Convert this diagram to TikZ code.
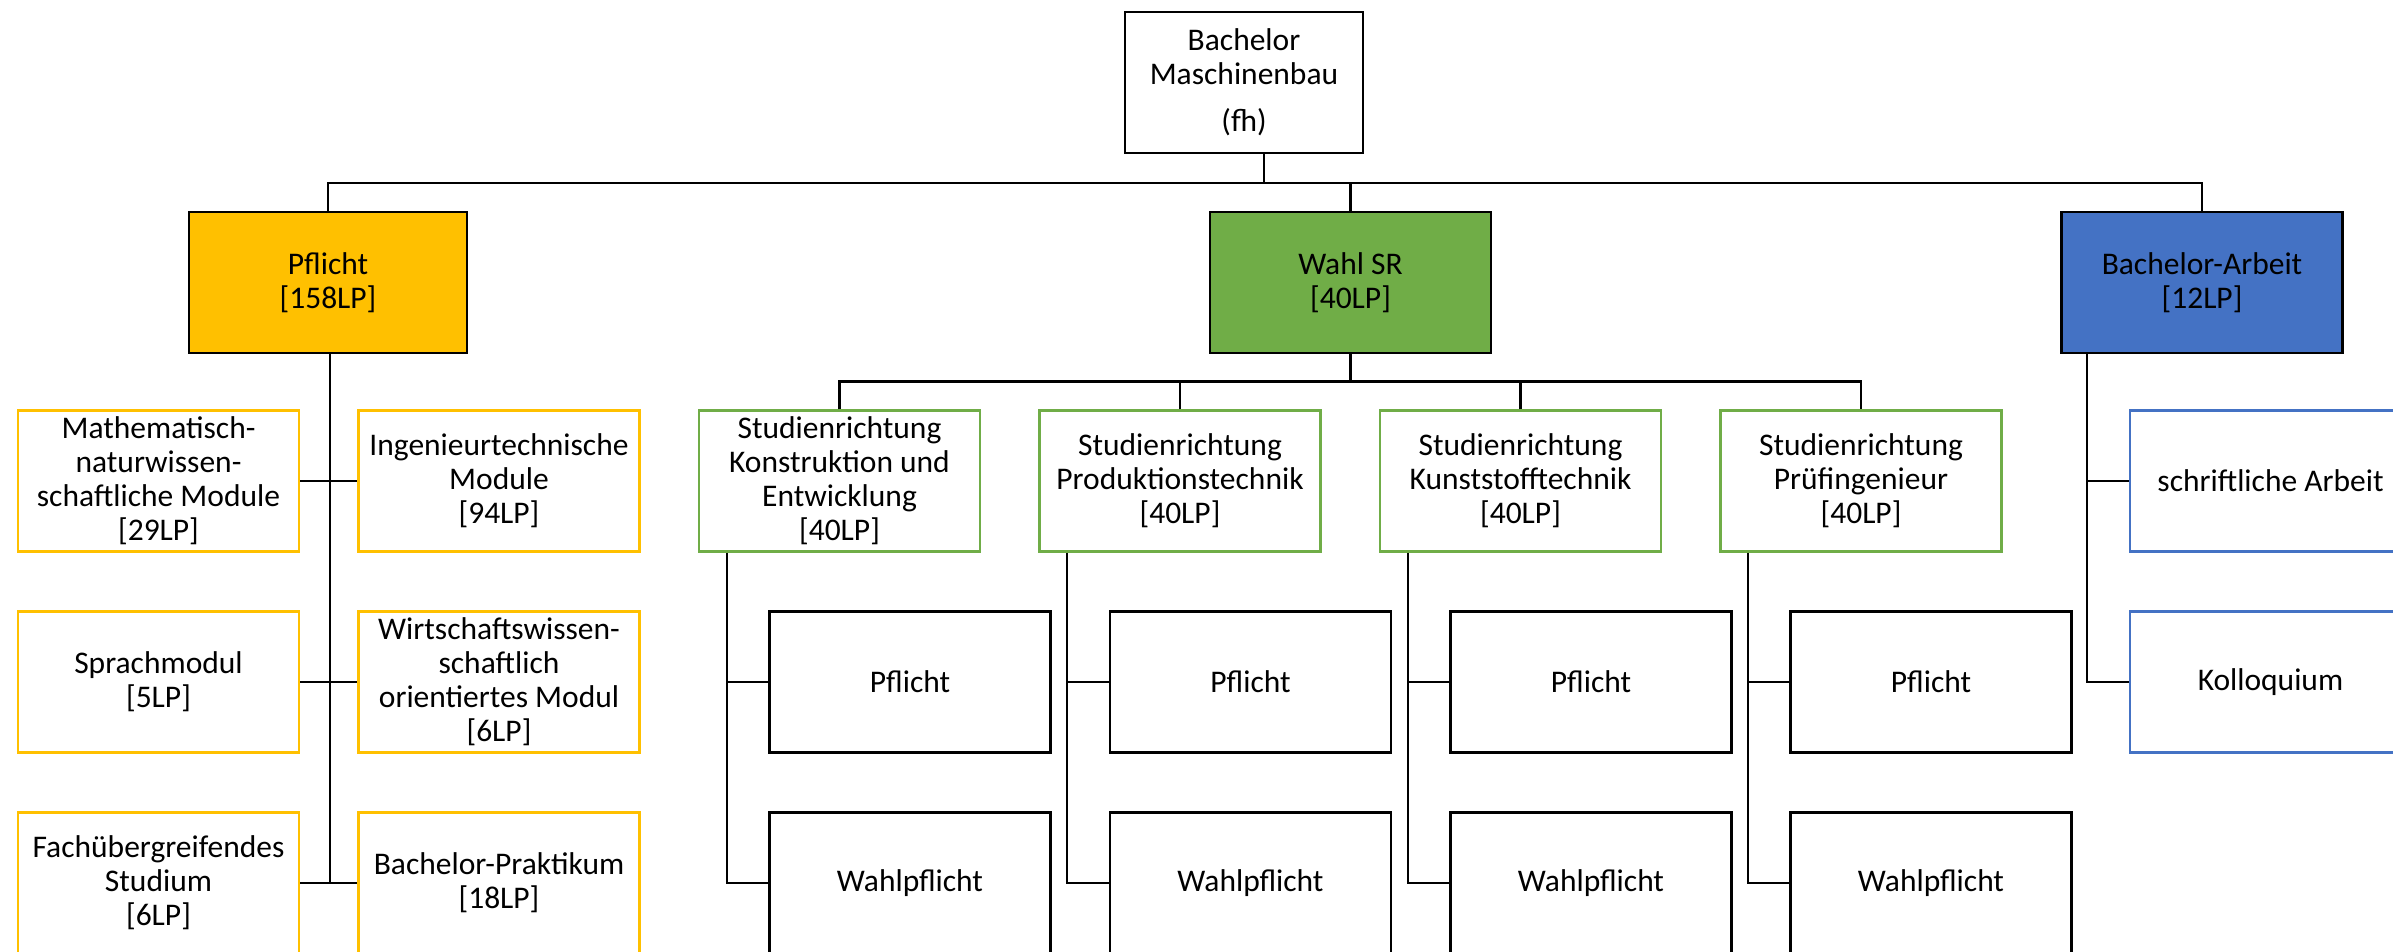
\documentclass[tikz,border=0pt]{standalone}
\usepackage{fontspec}
\setmainfont{Carlito}
\definecolor{orng}{HTML}{FFC000}
\definecolor{grn}{HTML}{70AD47}
\definecolor{blu}{HTML}{4472C4}
\newcommand\lp[1]{[#1LP]}
\begin{document}
\begin{tikzpicture}[x=1pt,y=-1pt,
  box/.style={draw=black, line width=2.5pt, minimum width=281pt, minimum height=141pt,
    inner sep=0pt, align=center, font=\fontsize{31.5}{34}\selectfont},
  obox/.style={box, draw=orng},
  gbox/.style={box, draw=grn},
  bbox/.style={box, draw=blu},
  conn/.style={draw=black, line width=2.3pt}
]
\useasboundingbox (0,0) rectangle (2393,951);
\clip (0,0) rectangle (2393,951);
\fill[white] (0,0) rectangle (2393,951);

% level 0
\node[box, minimum width=238pt] (top) at (1244,82.5) {Bachelor\\Maschinenbau\\[13pt](fh)};
% level 1
\node[box, fill=orng, minimum width=278pt] (pfl) at (328,282.5) {Pflicht\\\lp{158}};
\node[box, fill=grn] (wahl) at (1350.5,282.5) {Wahl SR\\\lp{40}};
\node[box, fill=blu] (ba) at (2202,282.5) {Bachelor-Arbeit\\\lp{12}};

% Pflicht children
\node[obox] (m1) at (158.5,481) {Mathematisch-\\naturwissen-\\schaftliche Module\\\lp{29}};
\node[obox] (i1) at (499,481) {Ingenieurtechnische\\Module\\\lp{94}};
\node[obox] (m2) at (158.5,682) {Sprachmodul\\\lp{5}};
\node[obox] (i2) at (499,682) {Wirtschaftswissen-\\schaftlich\\orientiertes Modul\\\lp{6}};
\node[obox] (m3) at (158.5,883) {Fachübergreifendes\\Studium\\\lp{6}};
\node[obox] (i3) at (499,883) {Bachelor-Praktikum\\\lp{18}};

% Studienrichtungen
\node[gbox] (s1) at (839.5,481) {Studienrichtung\\Konstruktion und\\Entwicklung\\\lp{40}};
\node[gbox] (s2) at (1180,481) {Studienrichtung\\Produktionstechnik\\\lp{40}};
\node[gbox] (s3) at (1520.5,481) {Studienrichtung\\Kunststofftechnik\\\lp{40}};
\node[gbox] (s4) at (1861,481) {Studienrichtung\\Prüfingenieur\\\lp{40}};
\foreach \i/\x in {1/910,2/1250.5,3/1591,4/1931}{
  \node[box] (p\i) at (\x,682) {Pflicht};
  \node[box] (w\i) at (\x,883) {Wahlpflicht};
}

% Bachelor-Arbeit children
\node[bbox] (sa) at (2270.5,481) {schriftliche Arbeit};
\node[bbox] (ko) at (2270.5,682) {Kolloquium};

% connectors level 0 -> 1
\coordinate (b1) at (0,183);
\coordinate (topc) at ([xshift=20pt]top.south);
\draw[conn] (topc) -- (topc |- b1);
\draw[conn] (pfl.north) -- (pfl.north |- b1) -- (ba.north |- b1) -- (ba.north);
\draw[conn] (wahl.north) -- (wahl.north |- b1);

% Pflicht
\coordinate (pv) at ([xshift=2pt]pfl.south);
\draw[conn] (pv) -- (pv |- m3.east);
\draw[conn] (m1.east) -- (i1.west);
\draw[conn] (m2.east) -- (i2.west);
\draw[conn] (m3.east) -- (i3.west);

% Wahl SR
\coordinate (b2) at (0,381.5);
\draw[conn] (wahl.south) -- (wahl.south |- b2);
\draw[conn] (s1.north) -- (s1.north |- b2) -- (s4.north |- b2) -- (s4.north);
\draw[conn] (s2.north) -- (s2.north |- b2);
\draw[conn] (s3.north) -- (s3.north |- b2);
\foreach \i in {1,2,3,4}{
  \coordinate (sl\i) at ([xshift=29pt]s\i.south west);
  \draw[conn] (sl\i) |- (w\i.west);
  \draw[conn] (sl\i |- p\i.west) -- (p\i.west);
}

% Bachelor-Arbeit
\coordinate (bal) at ([xshift=27pt]ba.south west);
\draw[conn] (bal) |- (ko.west);
\draw[conn] (bal |- sa.west) -- (sa.west);
\end{tikzpicture}
\end{document}
